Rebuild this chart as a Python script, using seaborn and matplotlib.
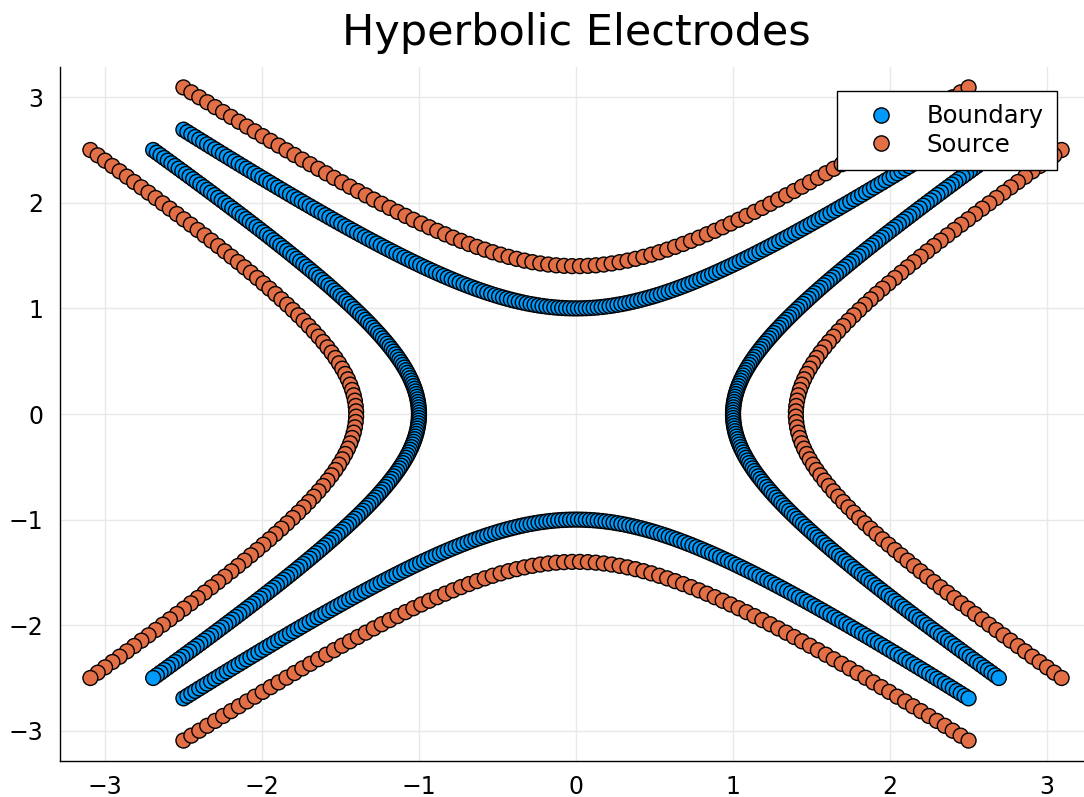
import numpy as np
import pandas as pd
import matplotlib
matplotlib.use("Agg")
import matplotlib.pyplot as plt
from matplotlib.lines import Line2D
import seaborn as sns

# electrode geometry
series_names = ["Boundary", "Source"]
series_colors = ["#009AFA", "#E36F47"]
vertex = [1.0, 1.0]        # hyperbolas x^2 - y^2 = +-1
shift = [0.0, 0.4]         # source = boundary pushed outward by 0.4
arm_end = [2.5, 2.5]       # last sample along each arm
n_points = [200, 100]      # markers per arm
ticks = [-3, -2, -1, 0, 1, 2, 3]
lim = 3.286

rows = []
for name, a, d, end, n in zip(series_names, vertex, shift, arm_end, n_points):
    s = np.linspace(-end, end, n)
    r = np.sqrt(a**2 + s**2) + d
    # top and bottom arms, left to right
    rows += [(name, xx, yy) for xx, yy in zip(s, r)]
    rows += [(name, xx, -yy) for xx, yy in zip(s, r)]
    # right and left arms, top to bottom
    rows += [(name, xx, yy) for xx, yy in zip(r[::-1], s[::-1])]
    rows += [(name, -xx, yy) for xx, yy in zip(r[::-1], s[::-1])]
df = pd.DataFrame(rows, columns=["series", "x", "y"])

sns.set_style("white")
plt.rcParams["font.family"] = ["DejaVu Sans"]
plt.rcParams["text.color"] = "black"

fig = plt.figure(figsize=(10.84, 7.97), dpi=100)
ax = fig.add_axes([60 / 1084, 36 / 797, 1032 / 1084, 694 / 797])

sns.scatterplot(data=df, x="x", y="y", hue="series",
                palette=dict(zip(series_names, series_colors)),
                s=115, edgecolor="black", linewidth=1.0, legend=False, ax=ax)

ax.set_xlim(-lim, lim)
ax.set_ylim(-lim, lim)
ax.set_xticks(ticks)
ax.set_yticks(ticks)
ax.grid(True, color="#e8e8e8", linewidth=1)
ax.set_axisbelow(True)
ax.set_xlabel("")
ax.set_ylabel("")
for side in ["top", "right"]:
    ax.spines[side].set_visible(False)
for side in ["left", "bottom"]:
    ax.spines[side].set_color("black")
    ax.spines[side].set_linewidth(1.0)
ax.tick_params(axis="both", direction="in", length=7, width=0.8,
               labelsize=17, colors="black")
ax.tick_params(axis="x", pad=10)
ax.tick_params(axis="y", pad=12)

ax.set_title("Hyperbolic Electrodes", fontsize=31, pad=16, color="black")

handles = [Line2D([], [], linestyle="none", marker="o", markersize=11,
                  markerfacecolor=c, markeredgecolor="black", markeredgewidth=1.0)
           for c in series_colors]
leg = ax.legend(handles, series_names, loc="upper right",
                bbox_to_anchor=(1057 / 1084, 1 - 91 / 797),
                bbox_transform=fig.transFigure, fontsize=17.5,
                frameon=True, fancybox=False, framealpha=1,
                edgecolor="black", borderpad=0.55, labelspacing=0.17,
                handlelength=2.5, handletextpad=0.62, borderaxespad=0)
leg.get_frame().set_linewidth(1.0)

fig.savefig("out.png", dpi=100)
